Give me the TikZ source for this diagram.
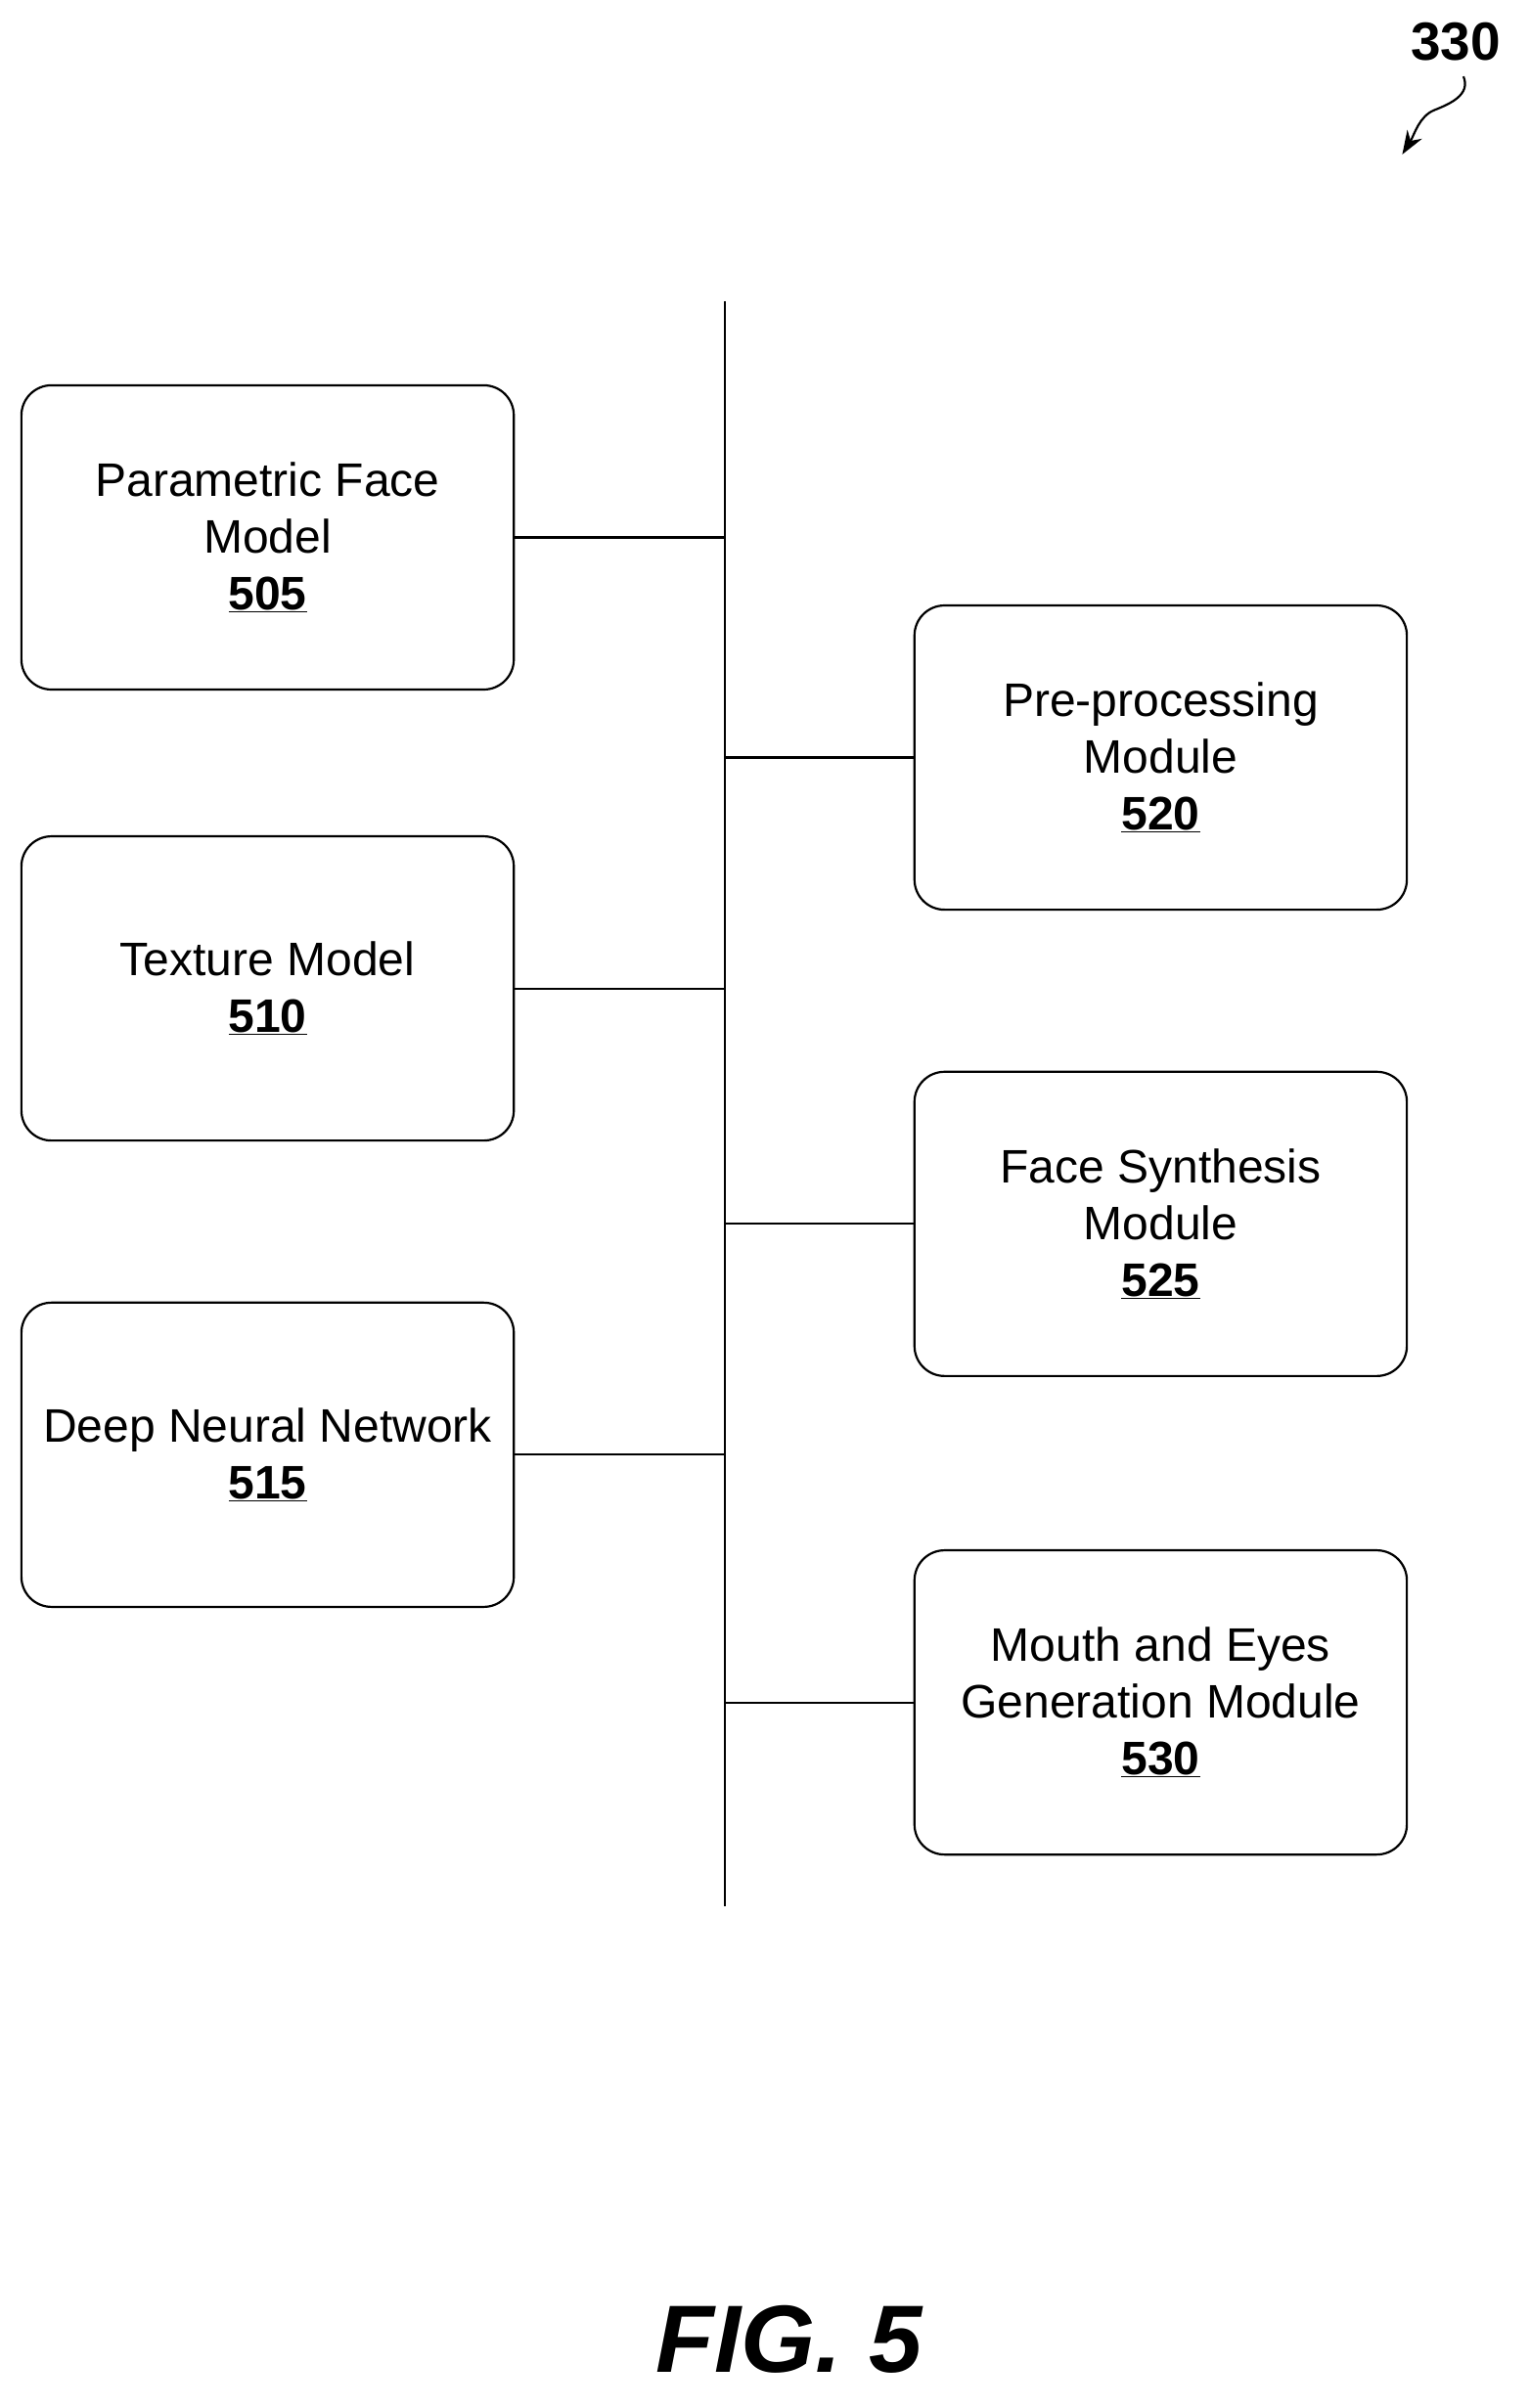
\documentclass[tikz,border=0pt]{standalone}
\usepackage{fontspec}
\setmainfont{Liberation Sans}
\usetikzlibrary{arrows.meta}
\begin{document}
\begin{tikzpicture}[x=0.05cm,y=-0.05cm,
  box/.style={draw,line width=2pt,rounded corners=28pt,minimum width=322*0.05cm,minimum height=199*0.05cm,align=center,inner sep=0pt,font=\fontsize{43.7}{52.5}\selectfont},
  ln/.style={line width=2pt}]
\useasboundingbox (0,0) rectangle (1000,1575);
\newcommand{\num}[1]{\textbf{\underline{#1}}}
\node[box] (b505) at (175,351.5) {Parametric Face\\Model\\\num{505}};
\node[box] (b510) at (175,646.5) {Texture Model\\\num{510}};
\node[box] (b515) at (175,951.5) {Deep Neural Network\\\num{515}};
\node[box] (b520) at (759,495.5) {Pre-processing\\Module\\\num{520}};
\node[box] (b525) at (759,800.5) {Face Synthesis\\Module\\\num{525}};
\node[box] (b530) at (759,1113.5) {Mouth and Eyes\\Generation Module\\\num{530}};
\coordinate (top) at (474,197);
\coordinate (bot) at (474,1247);
\draw[ln] (top) -- (bot);
\foreach \n in {505,510,515} \draw[ln] (b\n.east) -- (b\n.east -| top);
\foreach \n in {520,525,530} \draw[ln] (b\n.west) -- (b\n.west -| top);
\node[font=\bfseries\fontsize{50}{60}\selectfont] (lbl) at (952,27) {330};
\coordinate (tip) at (917,101);
\draw[ln,-{Stealth[length=22pt,width=16pt]}] (957,50) .. controls (962,62) and (948,68) .. (938,72) .. controls (928,76) and (925,88) .. (tip);
\node[font=\bfseries\itshape\fontsize{89}{100}\selectfont] (fig) at (516,1530) {FIG. 5};
\end{tikzpicture}
\end{document}
